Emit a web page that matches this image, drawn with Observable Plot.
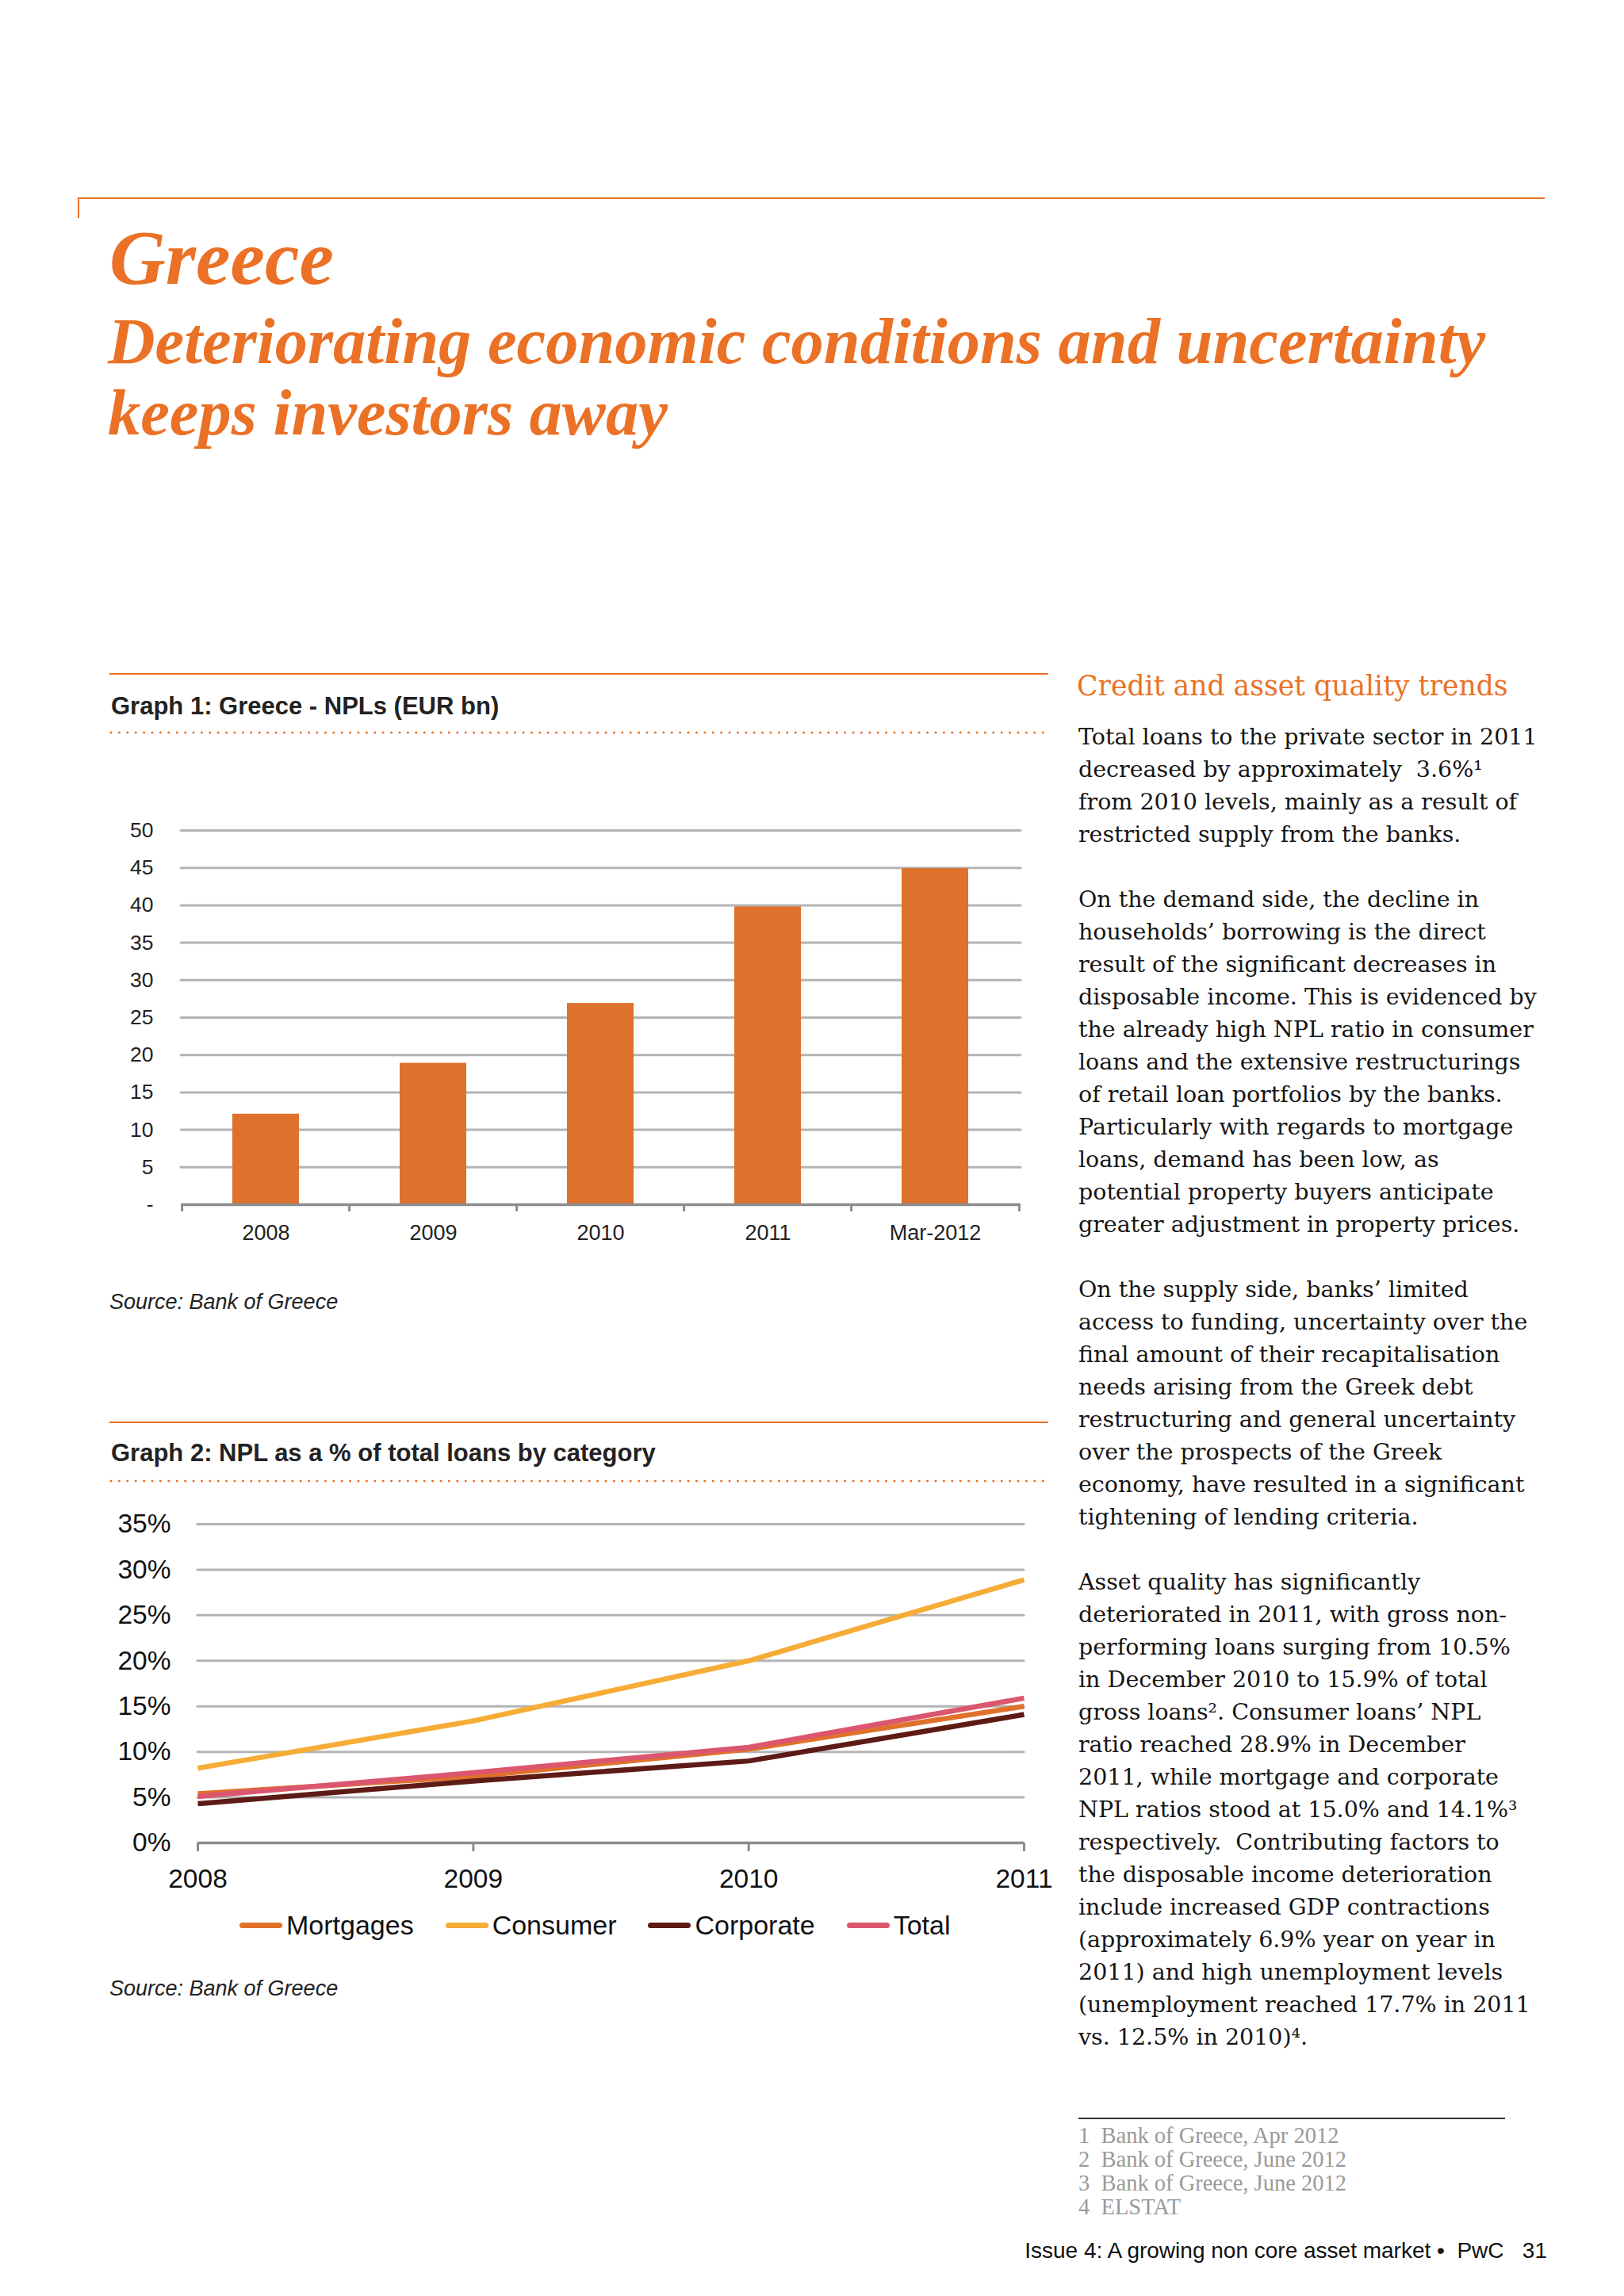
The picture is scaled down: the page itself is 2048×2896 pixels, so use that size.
<!DOCTYPE html>
<html><head><meta charset="utf-8">
<script src="https://cdn.jsdelivr.net/npm/d3@7"></script>
<script src="https://cdn.jsdelivr.net/npm/@observablehq/plot@0.6"></script>
<style>
html,body{margin:0;padding:0;background:#fff;}
#page{position:relative;width:2048px;height:2896px;overflow:hidden;background:#fff;}
.t{position:absolute;white-space:pre;line-height:1;}
.chart{position:absolute;left:0;}
#body{position:absolute;left:1360px;font-family:"DejaVu Serif",serif;font-size:28.5px;line-height:41px;color:#151515;white-space:pre;}
#legend{position:absolute;left:302px;display:flex;align-items:center;gap:40px;font-family:"Liberation Sans",Arial,sans-serif;font-size:34px;color:#111;line-height:1;}
#legend .it{display:flex;align-items:center;gap:5px;}
#legend .sw{display:inline-block;width:54px;height:7px;border-radius:4px;}
</style></head>
<body><div id="page"></div>
<script>
// ---------- data ----------
const nplCategories = ["2008", "2009", "2010", "2011", "Mar-2012"];
const nplValues = [12.1, 18.9, 26.9, 39.8, 44.9];
const nplTicks = [0, 5, 10, 15, 20, 25, 30, 35, 40, 45, 50];

const years = [2008, 2009, 2010, 2011];
const seriesNames = ["Mortgages", "Consumer", "Corporate", "Total"];
const seriesColors = ["#E0712B", "#F6AC36", "#5E1B16", "#DB566E"];
const mortgages = [5.4, 7.3, 10.3, 15.0];
const consumer = [8.2, 13.4, 20.0, 28.9];
const corporate = [4.3, 6.8, 9.0, 14.1];
const total = [5.1, 7.7, 10.5, 15.9];
const pctTicks = [0, 5, 10, 15, 20, 25, 30, 35];

const ORANGE = "#EA7125";
const page = document.getElementById("page");

function txt(str, x, baseline, fs, style, right) {
  const d = document.createElement("div");
  d.className = "t";
  d.textContent = str;
  d.style.fontSize = fs + "px";
  if (right) d.style.right = (2048 - x) + "px"; else d.style.left = x + "px";
  d.style.top = (baseline - 0.84 * fs) + "px";
  Object.assign(d.style, style);
  page.appendChild(d);
  return d;
}
function box(x, y, w, h, color) {
  const d = document.createElement("div");
  Object.assign(d.style, {position: "absolute", left: x + "px", top: y + "px", width: w + "px", height: h + "px", background: color});
  page.appendChild(d);
}
function dotted(x1, x2, y) {
  const ns = "http://www.w3.org/2000/svg";
  const s = document.createElementNS(ns, "svg");
  s.setAttribute("width", x2 - x1 + 8);
  s.setAttribute("height", 8);
  Object.assign(s.style, {position: "absolute", left: (x1 - 4) + "px", top: (y - 4) + "px"});
  const l = document.createElementNS(ns, "line");
  l.setAttribute("x1", 4); l.setAttribute("x2", x2 - x1 + 4);
  l.setAttribute("y1", 4); l.setAttribute("y2", 4);
  l.setAttribute("stroke", ORANGE); l.setAttribute("stroke-width", 3);
  l.setAttribute("stroke-dasharray", "0 10.4"); l.setAttribute("stroke-linecap", "round");
  s.appendChild(l);
  page.appendChild(s);
}

// ---------- header ----------
box(98, 249, 1850, 2, ORANGE);
box(98, 249, 2, 26, ORANGE);
const serifBI = {fontFamily: '"Liberation Serif", serif', fontWeight: "bold", fontStyle: "italic", color: ORANGE};
txt("Greece", 138, 358, 98, serifBI);
txt("Deteriorating economic conditions and uncertainty", 136, 458, 82.5, serifBI);
txt("keeps investors away", 136, 548, 82.5, serifBI);

// ---------- graph headers ----------
const sansB = {fontFamily: '"Liberation Sans", Arial, sans-serif', fontWeight: "bold", color: "#222"};
const sansI = {fontFamily: '"Liberation Sans", Arial, sans-serif', fontStyle: "italic", color: "#222"};
box(138, 849, 1184, 2, ORANGE);
txt("Graph 1: Greece - NPLs (EUR bn)", 140, 901, 31, sansB);
dotted(140, 1322, 924);
txt("Source: Bank of Greece", 138, 1652, 27, sansI);

box(138, 1793, 1184, 2, ORANGE);
txt("Graph 2: NPL as a % of total loans by category", 140, 1843, 31, sansB);
dotted(140, 1322, 1868);
txt("Source: Bank of Greece", 138, 2518, 27, sansI);

// ---------- graph 1: bars ----------
const W1 = 1340, mL1 = 228, mR1 = 53, mT1 = 47, mB1 = 70, H1 = 589;
const step1 = (W1 - mL1 - mR1) / nplCategories.length;
const nplData = nplCategories.map((c, i) => ({category: c, value: nplValues[i]}));
const axisStyle = {fontFamily: '"Liberation Sans", Arial, sans-serif', fontSize: "27px", color: "#222", background: "transparent", overflow: "visible"};
const chart1 = Plot.plot({
  width: W1, height: H1, marginLeft: mL1, marginRight: mR1, marginTop: mT1, marginBottom: mB1,
  style: axisStyle,
  x: {domain: nplCategories, paddingInner: 0.6, paddingOuter: 0.3, label: null},
  y: {domain: [0, 50], label: null},
  marks: [
    Plot.ruleY(nplTicks.filter(d => d > 0), {stroke: "#b4b4b4", strokeWidth: 3, strokeLinecap: "round"}),
    Plot.barY(nplData, {x: "category", y: "value", fill: "#DE712B"}),
    Plot.ruleY([0], {stroke: "#8c8c8c", strokeWidth: 3.5}),
    Plot.axisY({ticks: nplTicks, tickSize: 0, tickPadding: 35, tickFormat: d => d === 0 ? "-" : String(d), fontSize: 26.5, fill: "#222", label: null}),
    Plot.axisX({tickSize: 0, tickPadding: 25, fontSize: 27, fill: "#222", label: null}),
    Plot.axisX({tickSize: 9, tickFormat: () => "", dx: -step1 / 2, stroke: "#8c8c8c", strokeWidth: 3, label: null}),
    Plot.axisX({ticks: [nplCategories[nplCategories.length - 1]], tickSize: 9, tickFormat: () => "", dx: step1 / 2, stroke: "#8c8c8c", strokeWidth: 3, label: null})
  ]
});
chart1.classList.add("chart");
chart1.style.position = "absolute";
chart1.style.top = "1000px";
page.appendChild(chart1);

// ---------- graph 2: lines ----------
const W2 = 1340, mL2 = 249, mR2 = 49, mT2 = 42, mB2 = 70, H2 = 514;
const seriesValues = [mortgages, consumer, corporate, total];
const lineData = seriesNames.flatMap((s, k) => years.map((yr, i) => ({series: s, year: yr, value: seriesValues[k][i]})));
const chart2 = Plot.plot({
  width: W2, height: H2, marginLeft: mL2, marginRight: mR2, marginTop: mT2, marginBottom: mB2,
  style: Object.assign({}, axisStyle, {fontSize: "33.5px", color: "#111"}),
  x: {domain: [2008, 2011], label: null},
  y: {domain: [0, 35], label: null},
  color: {domain: seriesNames, range: seriesColors},
  marks: [
    Plot.ruleY(pctTicks.filter(d => d > 0), {stroke: "#b4b4b4", strokeWidth: 3, strokeLinecap: "round"}),
    Plot.ruleY([0], {stroke: "#8c8c8c", strokeWidth: 3.5}),
    Plot.axisX({ticks: years, tickSize: 11, tickPadding: 22, tickFormat: d => String(d), stroke: "#8c8c8c", strokeWidth: 3, fill: "#111", fontSize: 33.5, label: null}),
    Plot.axisY({ticks: pctTicks, tickSize: 0, tickPadding: 34, tickFormat: d => d + "%", fill: "#111", fontSize: 33.5, label: null}),
    Plot.line(lineData, {x: "year", y: "value", z: "series", stroke: "series", strokeWidth: 6.5, strokeLinecap: "butt", strokeLinejoin: "round"})
  ]
});
chart2.classList.add("chart");
chart2.style.position = "absolute";
chart2.style.top = "1880px";
page.appendChild(chart2);

// legend
const leg = document.createElement("div");
leg.id = "legend";
leg.style.top = (2442 - 0.84 * 34 - 2) + "px";
seriesNames.forEach((s, i) => {
  const it = document.createElement("div");
  it.className = "it";
  const sw = document.createElement("span");
  sw.className = "sw";
  sw.style.background = seriesColors[i];
  const lb = document.createElement("span");
  lb.textContent = s;
  it.appendChild(sw); it.appendChild(lb);
  leg.appendChild(it);
});
page.appendChild(leg);

// ---------- right column ----------
txt("Credit and asset quality trends", 1358, 877, 34.6, {fontFamily: '"DejaVu Serif", serif', color: ORANGE});
const bodyLines = [
  "Total loans to the private sector in 2011",
  "decreased by approximately  3.6%¹",
  "from 2010 levels, mainly as a result of",
  "restricted supply from the banks.",
  "",
  "On the demand side, the decline in",
  "households’ borrowing is the direct",
  "result of the significant decreases in",
  "disposable income. This is evidenced by",
  "the already high NPL ratio in consumer",
  "loans and the extensive restructurings",
  "of retail loan portfolios by the banks.",
  "Particularly with regards to mortgage",
  "loans, demand has been low, as",
  "potential property buyers anticipate",
  "greater adjustment in property prices.",
  "",
  "On the supply side, banks’ limited",
  "access to funding, uncertainty over the",
  "final amount of their recapitalisation",
  "needs arising from the Greek debt",
  "restructuring and general uncertainty",
  "over the prospects of the Greek",
  "economy, have resulted in a significant",
  "tightening of lending criteria.",
  "",
  "Asset quality has significantly",
  "deteriorated in 2011, with gross non-",
  "performing loans surging from 10.5%",
  "in December 2010 to 15.9% of total",
  "gross loans². Consumer loans’ NPL",
  "ratio reached 28.9% in December",
  "2011, while mortgage and corporate",
  "NPL ratios stood at 15.0% and 14.1%³",
  "respectively.  Contributing factors to",
  "the disposable income deterioration",
  "include increased GDP contractions",
  "(approximately 6.9% year on year in",
  "2011) and high unemployment levels",
  "(unemployment reached 17.7% in 2011",
  "vs. 12.5% in 2010)⁴."
];
const body = document.createElement("div");
body.id = "body";
body.textContent = bodyLines.map(l => l === "" ? "\u200b" : l).join("\n");
body.style.top = (939 - 30.4) + "px";
page.appendChild(body);

// footnotes
box(1360, 2671, 538, 2, "#333");
const fnStyle = {fontFamily: '"Liberation Serif", serif', color: "#9a9a9a"};
const footnotes = ["1  Bank of Greece, Apr 2012", "2  Bank of Greece, June 2012", "3  Bank of Greece, June 2012", "4  ELSTAT"];
footnotes.forEach((f, i) => txt(f, 1360, 2704 + i * 30, 28.5, fnStyle));

// footer
txt("Issue 4: A growing non core asset market •  PwC   31", 1951, 2849, 28, {fontFamily: '"Liberation Sans", Arial, sans-serif', color: "#111"}, true);
</script>
</body></html>
